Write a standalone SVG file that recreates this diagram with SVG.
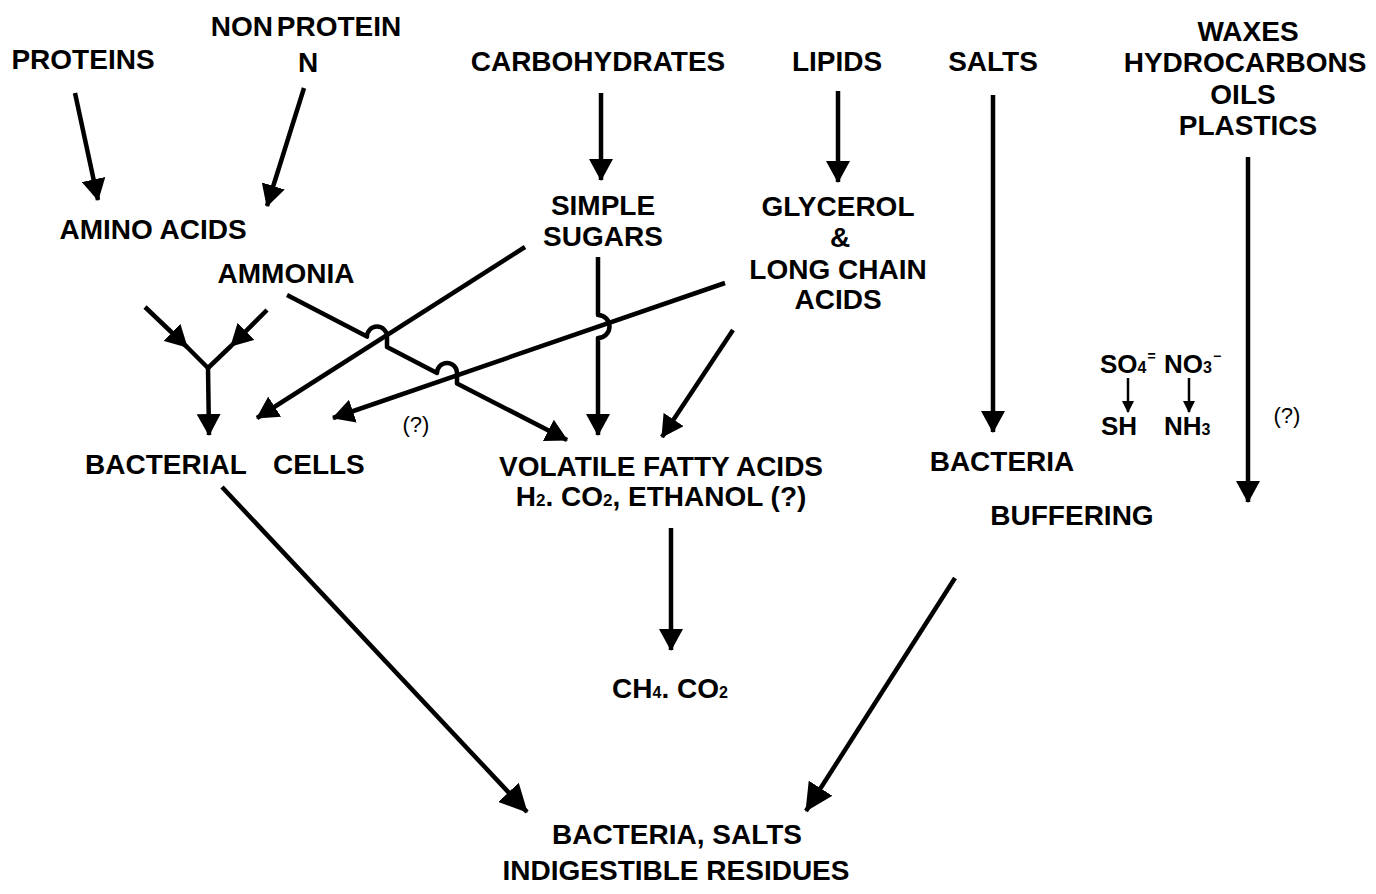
<svg xmlns="http://www.w3.org/2000/svg" width="1376" height="894" viewBox="0 0 1376 894">
<style>
.t{font-family:"Liberation Sans",Arial,Helvetica,sans-serif;font-weight:bold;font-size:28px;fill:#000;text-anchor:middle}
.s{font-family:"Liberation Sans",Arial,Helvetica,sans-serif;font-weight:bold;font-size:26px;fill:#000;text-anchor:start}
.q{font-family:"Liberation Sans",Arial,Helvetica,sans-serif;font-size:22px;fill:#000;text-anchor:middle}
.c{fill:none;stroke:#000;stroke-width:4.5;stroke-linejoin:round}
.cs{fill:none;stroke:#000;stroke-width:2.5}
</style>
<defs>
<marker id="ah" markerUnits="userSpaceOnUse" markerWidth="22" markerHeight="24" viewBox="0 0 22 24" refX="21" refY="12" orient="auto"><path d="M0,0 L22,12 L0,24 z" fill="#000"/></marker>
<marker id="ahl" markerUnits="userSpaceOnUse" markerWidth="28" markerHeight="28" viewBox="0 0 28 28" refX="27" refY="14" orient="auto"><path d="M0,0 L28,14 L0,28 z" fill="#000"/></marker>
<marker id="ahs" markerUnits="userSpaceOnUse" markerWidth="12" markerHeight="12" viewBox="0 0 12 12" refX="11" refY="6" orient="auto"><path d="M0,0 L12,6 L0,12 z" fill="#000"/></marker>
</defs>
<rect width="1376" height="894" fill="#fff"/>

<g id="connectors">
<path class="c" d="M75,93 L98,200" marker-end="url(#ah)"/>
<path class="c" d="M304,88 L267,206" marker-end="url(#ah)"/>
<path class="c" d="M601,93 L601,180" marker-end="url(#ah)"/>
<path class="c" d="M838,91 L838,182" marker-end="url(#ah)"/>
<path class="c" d="M993,95 L993,432" marker-end="url(#ah)"/>
<path class="c" d="M1248,157 L1248,502" marker-end="url(#ah)"/>
<path class="c" d="M145,307 L187,347 L208,368" marker-mid="url(#ah)"/>
<path class="c" d="M267,310 L231,346 L208,368" marker-mid="url(#ah)"/>
<path class="c" d="M208,368 L209,435" marker-end="url(#ah)"/>
<path class="c" d="M525,247 L257,418" marker-end="url(#ah)"/>
<path class="c" d="M725,283 L333,418" marker-end="url(#ah)"/>
<path class="c" d="M287,295 L367,336.6 A10,10 0 0 1 387,336.6 L387,347 L437,373 A10,10 0 0 1 457,373 L457,383.4 L567,440" marker-end="url(#ah)"/>
<path class="c" d="M598,257 L598,315 A11.5,11.5 0 0 1 598,338 L598,435" marker-end="url(#ah)"/>
<path class="c" d="M733,330 L662,437" marker-end="url(#ah)"/>
<path class="c" d="M671,528 L671,650" marker-end="url(#ah)"/>
<path class="c" d="M222,487 L527,812" marker-end="url(#ahl)"/>
<path class="c" d="M955,578 L806,811" marker-end="url(#ahl)"/>
<path class="cs" d="M1128,378 L1128,412" marker-end="url(#ahs)"/>
<path class="cs" d="M1189,378 L1189,412" marker-end="url(#ahs)"/>
</g>

<g id="proteins"><text class="t" x="83" y="69">PROTEINS</text></g>
<g id="nonprotein"><text class="t" x="306" y="36" word-spacing="-4">NON PROTEIN</text><text class="t" x="308" y="72">N</text></g>
<g id="carbohydrates"><text class="t" x="598" y="71">CARBOHYDRATES</text></g>
<g id="lipids"><text class="t" x="837" y="71">LIPIDS</text></g>
<g id="salts"><text class="t" x="993" y="71">SALTS</text></g>
<g id="waxes">
<text class="t" x="1248" y="41">WAXES</text>
<text class="t" x="1245" y="72">HYDROCARBONS</text>
<text class="t" x="1243" y="104">OILS</text>
<text class="t" x="1248" y="135">PLASTICS</text>
</g>
<g id="amino-acids"><text class="t" x="153" y="239">AMINO ACIDS</text></g>
<g id="ammonia"><text class="t" x="286" y="283">AMMONIA</text></g>
<g id="simple-sugars"><text class="t" x="603" y="215">SIMPLE</text><text class="t" x="603" y="246">SUGARS</text></g>
<g id="glycerol">
<text class="t" x="838" y="216">GLYCEROL</text>
<text class="t" x="840" y="247">&amp;</text>
<text class="t" x="838" y="279">LONG CHAIN</text>
<text class="t" x="838" y="309">ACIDS</text>
</g>
<g id="bacterial-cells"><text class="t" x="85" y="474" style="text-anchor:start">BACTERIAL</text><text class="t" x="273" y="474" style="text-anchor:start">CELLS</text></g>
<g id="q1"><text class="q" x="416" y="432">(?)</text></g>
<g id="vfa">
<text class="t" x="661" y="476">VOLATILE FATTY ACIDS</text>
<text class="t" x="661" y="506" font-size="27">H<tspan font-size="17">2</tspan>. CO<tspan font-size="17">2</tspan>, ETHANOL (?)</text>
</g>
<g id="bacteria-right"><text class="t" x="1002" y="471">BACTERIA</text></g>
<g id="buffering"><text class="t" x="1072" y="525">BUFFERING</text></g>
<g id="so4"><text class="s" x="1100" y="373">SO<tspan font-size="16">4</tspan><tspan font-size="14" dx="1" dy="-12">=</tspan></text></g>
<g id="no3"><text class="s" x="1164" y="373">NO<tspan font-size="16">3</tspan><tspan font-size="14" dx="1" dy="-12">−</tspan></text></g>
<g id="sh"><text class="s" x="1101" y="435">SH</text></g>
<g id="nh3"><text class="s" x="1164" y="435">NH<tspan font-size="16">3</tspan></text></g>
<g id="q2"><text class="q" x="1287" y="423">(?)</text></g>
<g id="ch4"><text class="t" x="670" y="698" font-size="25">CH<tspan font-size="16">4</tspan>. CO<tspan font-size="16">2</tspan></text></g>
<g id="residues">
<text class="t" x="677" y="844">BACTERIA, SALTS</text>
<text class="t" x="676" y="880" font-size="27">INDIGESTIBLE RESIDUES</text>
</g>
</svg>
